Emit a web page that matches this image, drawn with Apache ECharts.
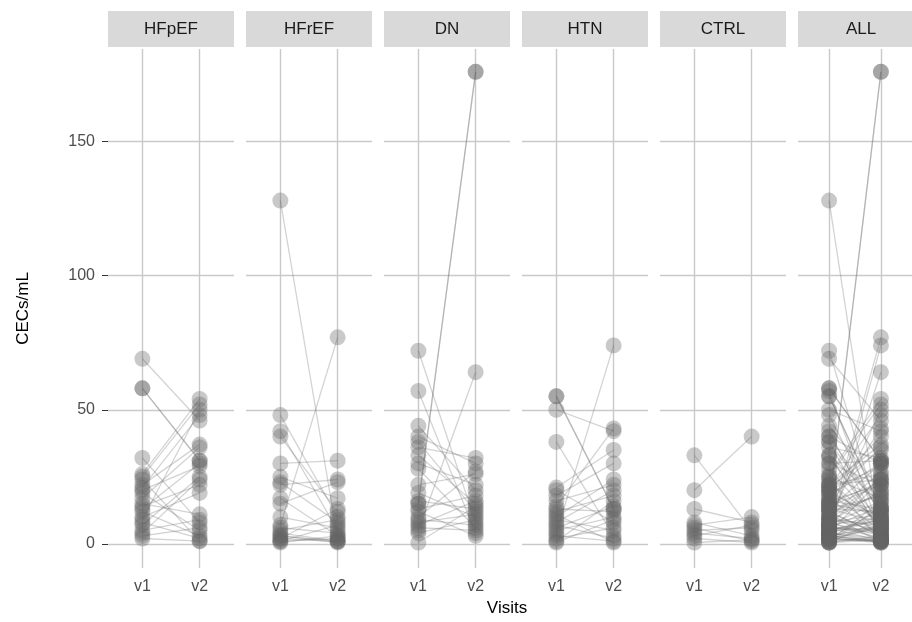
<!DOCTYPE html>
<html>
<head>
<meta charset="utf-8">
<script src="https://cdn.jsdelivr.net/npm/echarts@6/dist/echarts.min.js"></script>
<style>
  html, body { margin: 0; padding: 0; background: #fff; }
  #main { width: 912px; height: 622px; }
</style>
</head>
<body>
<div id="main"></div>
<script>
// facet names and visit labels
var groups = ["HFpEF", "HFrEF", "DN", "HTN", "CTRL", "ALL"];
var visits = ["v1", "v2"];
var yTicks = [0, 50, 100, 150];

// paired values (one entry per subject, v1 / v2)
var hfpefV1 = [69, 58, 58, 32, 26, 25, 24, 22, 21, 20, 19, 17, 15, 14, 13, 12, 10, 9, 8, 7, 5, 4, 3, 2];
var hfpefV2 = [46, 31, 31, 8, 54, 52, 1, 37, 48, 29, 5, 36, 11, 22, 30, 3, 19, 50, 2, 25, 9, 24, 6, 1];

var hfrefV1 = [128, 48, 42, 40, 30, 25, 23, 22, 17, 15, 10, 7, 6, 5, 4, 3, 2, 1, 1, 0.5, 3, 2];
var hfrefV2 = [2, 10, 5, 12, 31, 17, 8, 24, 3, 23, 6, 77, 4, 9, 1, 0.5, 13, 2, 7, 3, 1, 0.8];

var dnV1 = [72, 57, 44, 40, 38, 36, 33, 30, 28, 22, 19, 16, 15, 15, 13, 12, 10, 9, 8, 7, 6, 5, 4, 0.5];
var dnV2 = [8, 4, 20, 30, 12, 32, 15, 22, 6, 26, 10, 13, 176, 176, 18, 3, 27, 7, 11, 16, 5, 64, 9, 14];

var htnV1 = [55, 55, 50, 38, 21, 20, 18, 16, 14, 13, 12, 10, 9, 8, 7, 6, 5, 4, 3, 2, 1, 0.5, 11];
var htnV2 = [13, 13, 42, 3, 35, 8, 30, 22, 43, 12, 18, 24, 5, 20, 2, 14, 10, 74, 1, 6, 16, 9, 0.5];

var ctrlV1 = [33, 20, 13, 8, 7, 6, 5, 4, 3, 2, 0.5];
var ctrlV2 = [5, 40, 8, 3, 10, 1, 6, 2, 7, 0.5, 1.5];

// ALL is every subject together
var allV1 = [].concat(hfpefV1, hfrefV1, dnV1, htnV1, ctrlV1);
var allV2 = [].concat(hfpefV2, hfrefV2, dnV2, htnV2, ctrlV2);

var panels = [
  [hfpefV1, hfpefV2],
  [hfrefV1, hfrefV2],
  [dnV1, dnV2],
  [htnV1, htnV2],
  [ctrlV1, ctrlV2],
  [allV1, allV2]
];

var myChart = echarts.init(document.getElementById("main"), null, { renderer: "canvas" });

var font = "Liberation Sans, Arial, sans-serif";
var panelLeft = 108, panelStep = 138, panelW = 126, panelTop = 49, panelH = 519;

var grids = [], xAxes = [], yAxes = [], series = [], graphics = [];

groups.forEach(function (name, i) {
  var left = panelLeft + i * panelStep;
  grids.push({ left: left, top: panelTop, width: panelW, height: panelH });

  xAxes.push({
    type: "value",
    gridIndex: i,
    min: 0.4,
    max: 2.6,
    axisLine: { show: false },
    splitLine: { show: false },
    axisTick: { show: true, customValues: [1, 2], length: 5, lineStyle: { color: "#333" } },
    axisLabel: {
      customValues: [1, 2],
      color: "#4d4d4d",
      fontSize: 16,
      fontFamily: font,
      margin: 11,
      formatter: function (v) { return visits[Math.round(v) - 1]; }
    }
  });

  yAxes.push({
    type: "value",
    gridIndex: i,
    min: -9,
    max: 184.5,
    axisLine: { show: false },
    splitLine: { show: false },
    axisTick: { show: i === 0, customValues: yTicks, length: 6, lineStyle: { color: "#333" } },
    axisLabel: {
      show: i === 0,
      customValues: yTicks,
      color: "#4d4d4d",
      fontSize: 16,
      fontFamily: font,
      margin: 13
    },
    name: i === 0 ? "CECs/mL" : "",
    nameLocation: "middle",
    nameGap: 76,
    nameTextStyle: { color: "#000", fontSize: 17, fontFamily: font }
  });

  var v1 = panels[i][0], v2 = panels[i][1];

  // subject lines v1 -> v2
  series.push({
    type: "lines",
    coordinateSystem: "cartesian2d",
    xAxisIndex: i,
    yAxisIndex: i,
    z: 2,
    silent: true,
    lineStyle: { color: "rgba(110,110,110,0.3)", width: 1.3, opacity: 1 },
    data: v1.map(function (a, k) {
      return { coords: [[1, a], [2, v2[k]]] };
    })
  });

  // points, with the panel grid drawn as a markLine underneath
  series.push({
    type: "scatter",
    xAxisIndex: i,
    yAxisIndex: i,
    z: 3,
    silent: true,
    symbolSize: 16,
    itemStyle: { color: "rgba(100,100,100,0.35)", opacity: 1 },
    data: v1.map(function (a) { return [1, a]; }).concat(v2.map(function (b) { return [2, b]; })),
    markLine: {
      silent: true,
      z: 1,
      symbol: "none",
      animation: false,
      label: { show: false },
      lineStyle: { color: "#c9c9c9", width: 1.4, type: "solid" },
      data: [{ xAxis: 1 }, { xAxis: 2 }].concat(yTicks.map(function (t) { return { yAxis: t }; }))
    }
  });

  // facet strip
  graphics.push({
    type: "rect",
    left: left,
    top: 11,
    shape: { width: panelW, height: 36 },
    style: { fill: "#d9d9d9" }
  });
  graphics.push({
    type: "text",
    x: left + panelW / 2,
    y: 29,
    style: {
      text: name,
      fill: "#1a1a1a",
      font: "17px " + font,
      textAlign: "center",
      textVerticalAlign: "middle"
    }
  });
});

// x axis title
graphics.push({
  type: "text",
  x: 507,
  y: 608,
  style: { text: "Visits", fill: "#000", font: "17px " + font, textAlign: "center", textVerticalAlign: "middle" }
});

var option = {
  animation: false,
  backgroundColor: "#fff",
  grid: grids,
  xAxis: xAxes,
  yAxis: yAxes,
  series: series,
  graphic: graphics
};

myChart.setOption(option);
</script>
</body>
</html>
